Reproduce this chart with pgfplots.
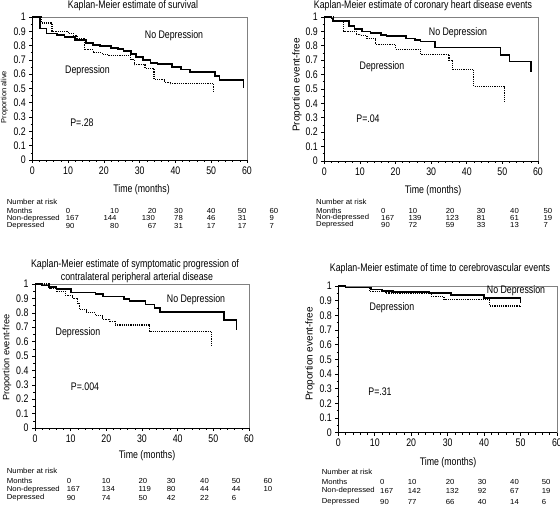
\documentclass[border=0pt]{standalone}
\usepackage{fontspec}
\setmainfont[FakeStretch=0.8]{Liberation Sans}
\newfontfamily\plainfont{Liberation Sans}
\newfontfamily\tabfont[FakeStretch=1.06]{Liberation Sans}
\usepackage{pgfplots}
\pgfplotsset{compat=1.18}

\pgfplotsset{
  kmaxis/.style={
    scale only axis,
    xmin=0, xmax=60, ymin=0, ymax=1,
    axis x line*=bottom, axis y line*=left,
    axis line style={-, line width=0.8pt},
    xtick={0,10,20,30,40,50,60},
    ytick={0,0.1,0.2,0.3,0.4,0.5,0.6,0.7,0.8,0.9,1},
    minor x tick num=4, minor y tick num=1,
    tick align=outside, major tick length=3pt, minor tick length=1.8pt,
    tick style={black, line width=0.6pt},
    tick label style={font=\fontsize{11}{12}\selectfont},
    /pgf/number format/assume math mode=true,
    clip=false,
  },
  nodep/.style={black, line width=1.7pt, const plot, no marks},
  dep/.style={black, line width=1.1pt, dash pattern=on 1.2pt off 1pt, const plot, no marks},
}
\newcommand{\frameit}{\draw[black!50, line width=0.8pt] (rel axis cs:0,1) -- (rel axis cs:1,1) -- (rel axis cs:1,0);}

\begin{document}
\begin{tikzpicture}
\useasboundingbox (0,0) rectangle (560pt,507pt);

% ---------- Panel 1 ----------
\begin{axis}[kmaxis, at={(32.3pt,347pt)}, anchor=south west, width=214.7pt, height=143pt]
\frameit
\addplot[nodep] coordinates {(0,1)(2.1,0.92)(4,0.885)(7,0.875)(9,0.862)(12,0.84)(15,0.82)(17,0.805)(19,0.795)(22,0.785)(24,0.775)(25.5,0.76)(27.5,0.74)(29,0.72)(31,0.70)(33,0.68)(35,0.67)(39,0.652)(41.5,0.633)(44,0.615)(51,0.587)(52.3,0.558)(59,0.5)};
\addplot[dep] coordinates {(0,1)(2.5,0.958)(5.5,0.9)(10,0.885)(11.5,0.87)(12.5,0.85)(14.5,0.77)(17,0.75)(19.5,0.74)(21,0.732)(27.5,0.70)(28.5,0.665)(31.5,0.64)(34,0.565)(37,0.545)(38.5,0.532)(50.7,0.47)};
\end{axis}

% ---------- Panel 2 ----------
\begin{axis}[kmaxis, at={(324.3pt,346pt)}, anchor=south west, width=213.7pt, height=144pt]
\frameit
\addplot[nodep] coordinates {(0,1)(2,0.99)(2.5,0.97)(7,0.937)(8.5,0.915)(10.5,0.90)(13,0.888)(16,0.877)(17.5,0.866)(23,0.85)(25.5,0.84)(27,0.83)(31,0.788)(49.5,0.737)(52,0.69)(58,0.62)};
\addplot[dep] coordinates {(0,1)(2.5,0.97)(5.5,0.9)(9,0.88)(10,0.87)(12,0.85)(14.5,0.81)(20,0.777)(27,0.742)(35,0.70)(36,0.637)(42,0.516)(50.5,0.41)};
\end{axis}

% ---------- Panel 3 ----------
\begin{axis}[kmaxis, at={(35pt,79pt)}, anchor=south west, width=214pt, height=144pt]
\frameit
\addplot[nodep] coordinates {(0,1)(2,0.99)(4,0.98)(6,0.965)(10,0.942)(17,0.93)(19,0.914)(25,0.896)(26.5,0.88)(31,0.857)(33.5,0.833)(35,0.806)(53,0.752)(56.5,0.678)};
\addplot[dep] coordinates {(0,1)(4,0.97)(6,0.95)(8.5,0.92)(10.5,0.90)(12,0.865)(12.5,0.822)(14.5,0.80)(17,0.78)(19,0.755)(21,0.74)(22.5,0.715)(32,0.671)(49.5,0.572)};
\end{axis}

% ---------- Panel 4 ----------
\begin{axis}[kmaxis, at={(338.3pt,74.3pt)}, anchor=south west, width=218.7pt, height=146.7pt]
\frameit
\addplot[nodep] coordinates {(0,1)(2,0.99)(9,0.977)(12,0.968)(15,0.959)(25,0.95)(31,0.939)(40,0.92)(50,0.886)};
\addplot[dep] coordinates {(0,1)(2,0.99)(8.5,0.962)(13,0.952)(25.5,0.927)(29,0.905)(41.5,0.864)(50,0.848)};
\end{axis}

\begin{scope}[x=1pt, y=-1pt, yshift=507pt, every node/.style={inner sep=0pt}]
\def\big{\fontsize{11}{12}\selectfont}
% titles
\node[font=\big] at (133,6) {Kaplan-Meier estimate of survival};
\node[font=\big] at (423,6) {Kaplan-Meier estimate of coronary heart disease events};
\node[font=\big] at (135,265) {Kaplan-Meier estimate of symptomatic progression of};
\node[font=\big] at (137,278) {contralateral peripheral arterial disease};
\node[font=\big] at (440,269) {Kaplan-Meier estimate of time to cerebrovascular events};
% x labels
\node[font=\big] at (141.5,190) {Time (months)};
\node[font=\big] at (433,190.5) {Time (months)};
\node[font=\big] at (147,456) {Time (months)};
\node[font=\big] at (448,463) {Time (months)};
% y labels
\node[rotate=90, font=\plainfont\fontsize{7.5}{8}\selectfont] at (4.5,97) {Proportion alive};
\node[rotate=90, font=\plainfont\fontsize{10}{11}\selectfont] at (297,85) {Proportion event-free};
\node[rotate=90, font=\plainfont\fontsize{9.2}{10}\selectfont] at (7,357.5) {Proportion event-free};
\node[rotate=90, font=\plainfont\fontsize{10}{11}\selectfont] at (310,354) {Proportion event-free};
% annotations
\node[font=\big] at (174,36) {No Depression};
\node[font=\big] at (87.5,70.7) {Depression};
\node[font=\big] at (82,123) {P=.28};
\node[font=\big] at (458,33) {No Depression};
\node[font=\big] at (382,67) {Depression};
\node[font=\big] at (368,119) {P=.04};
\node[font=\big] at (196,300) {No Depression};
\node[font=\big] at (78,333) {Depression};
\node[font=\big] at (85,387) {P=.004};
\node[font=\big] at (516,291) {No Depression};
\node[font=\big] at (392,308) {Depression};
\node[font=\big] at (380,392) {P=.31};
% risk tables
\begin{scope}[every node/.style={inner sep=0pt, anchor=west, font=\tabfont\fontsize{7.3}{8}\selectfont}]
% table 1
\node at (6.7,202.3) {Number at risk};
\node at (6.7,211) {Months};
\node at (6.7,218.3) {Non-depressed};
\node at (6.7,225.7) {Depressed};
\node at (65.7,211) {0};   \node at (65.7,218.3) {167}; \node at (65.7,225.7) {90};
\node at (110,211) {10};   \node at (103.3,218.3) {144}; \node at (110,225.7) {80};
\node at (147.7,211) {20}; \node at (141.7,218.3) {130}; \node at (147.7,225.7) {67};
\node at (174,211) {30};   \node at (174,218.3) {78};   \node at (174,225.7) {31};
\node at (206.7,211) {40}; \node at (206.7,218.3) {46}; \node at (206.7,225.7) {17};
\node at (237.7,211) {50}; \node at (237.7,218.3) {31}; \node at (237.7,225.7) {17};
\node at (269.3,211) {60}; \node at (269.3,218.3) {9};  \node at (269.3,225.7) {7};
% table 2
\node at (316,202.3) {Number at risk};
\node at (316,210.7) {Months};
\node at (316,217.7) {Non-depressed};
\node at (316,225) {Depressed};
\node at (381,210.7) {0};    \node at (381,217.7) {167};   \node at (381,225) {90};
\node at (408.3,210.7) {10}; \node at (408.3,217.7) {139}; \node at (408.3,225) {72};
\node at (445.7,210.7) {20}; \node at (445.7,217.7) {123}; \node at (445.7,225) {59};
\node at (476.7,210.7) {30}; \node at (476.7,217.7) {81};  \node at (476.7,225) {33};
\node at (510,210.7) {40};   \node at (510,217.7) {61};    \node at (510,225) {13};
\node at (543.3,210.7) {50}; \node at (543.3,217.7) {19};  \node at (543.3,225) {7};
% table 3
\node at (6.7,470.7) {Number at risk};
\node at (6.7,480.7) {Months};
\node at (6.7,489.3) {Non-depressed};
\node at (6.7,498) {Depressed};
\node at (66.7,480.7) {0};    \node at (66.7,489.3) {167};  \node at (66.7,498) {90};
\node at (101.7,480.7) {10};  \node at (101.7,489.3) {134}; \node at (101.7,498) {74};
\node at (138.3,480.7) {20};  \node at (138.3,489.3) {119}; \node at (138.3,498) {50};
\node at (166.7,480.7) {30};  \node at (166.7,489.3) {80};  \node at (166.7,498) {42};
\node at (200,480.7) {40};    \node at (200,489.3) {44};    \node at (200,498) {22};
\node at (231.7,480.7) {50};  \node at (231.7,489.3) {44};  \node at (231.7,498) {6};
\node at (263.3,480.7) {60};  \node at (263.3,489.3) {10};
% table 4
\node at (321.7,471.7) {Number at risk};
\node at (321.7,481.7) {Months};
\node at (321.7,491) {Non-depressed};
\node at (321.7,501.7) {Depressed};
\node at (380,481.7) {0};     \node at (380,491) {167};   \node at (380,501.7) {90};
\node at (407.7,481.7) {10};  \node at (407.7,491) {142}; \node at (407.7,501.7) {77};
\node at (445.7,481.7) {20};  \node at (445.7,491) {132}; \node at (445.7,501.7) {66};
\node at (477.7,481.7) {30};  \node at (477.7,491) {92};  \node at (477.7,501.7) {40};
\node at (510,481.7) {40};    \node at (510,491) {67};    \node at (510,501.7) {14};
\node at (541.7,481.7) {50};  \node at (541.7,491) {19};  \node at (541.7,501.7) {6};
\end{scope}
\end{scope}
\end{tikzpicture}
\end{document}
